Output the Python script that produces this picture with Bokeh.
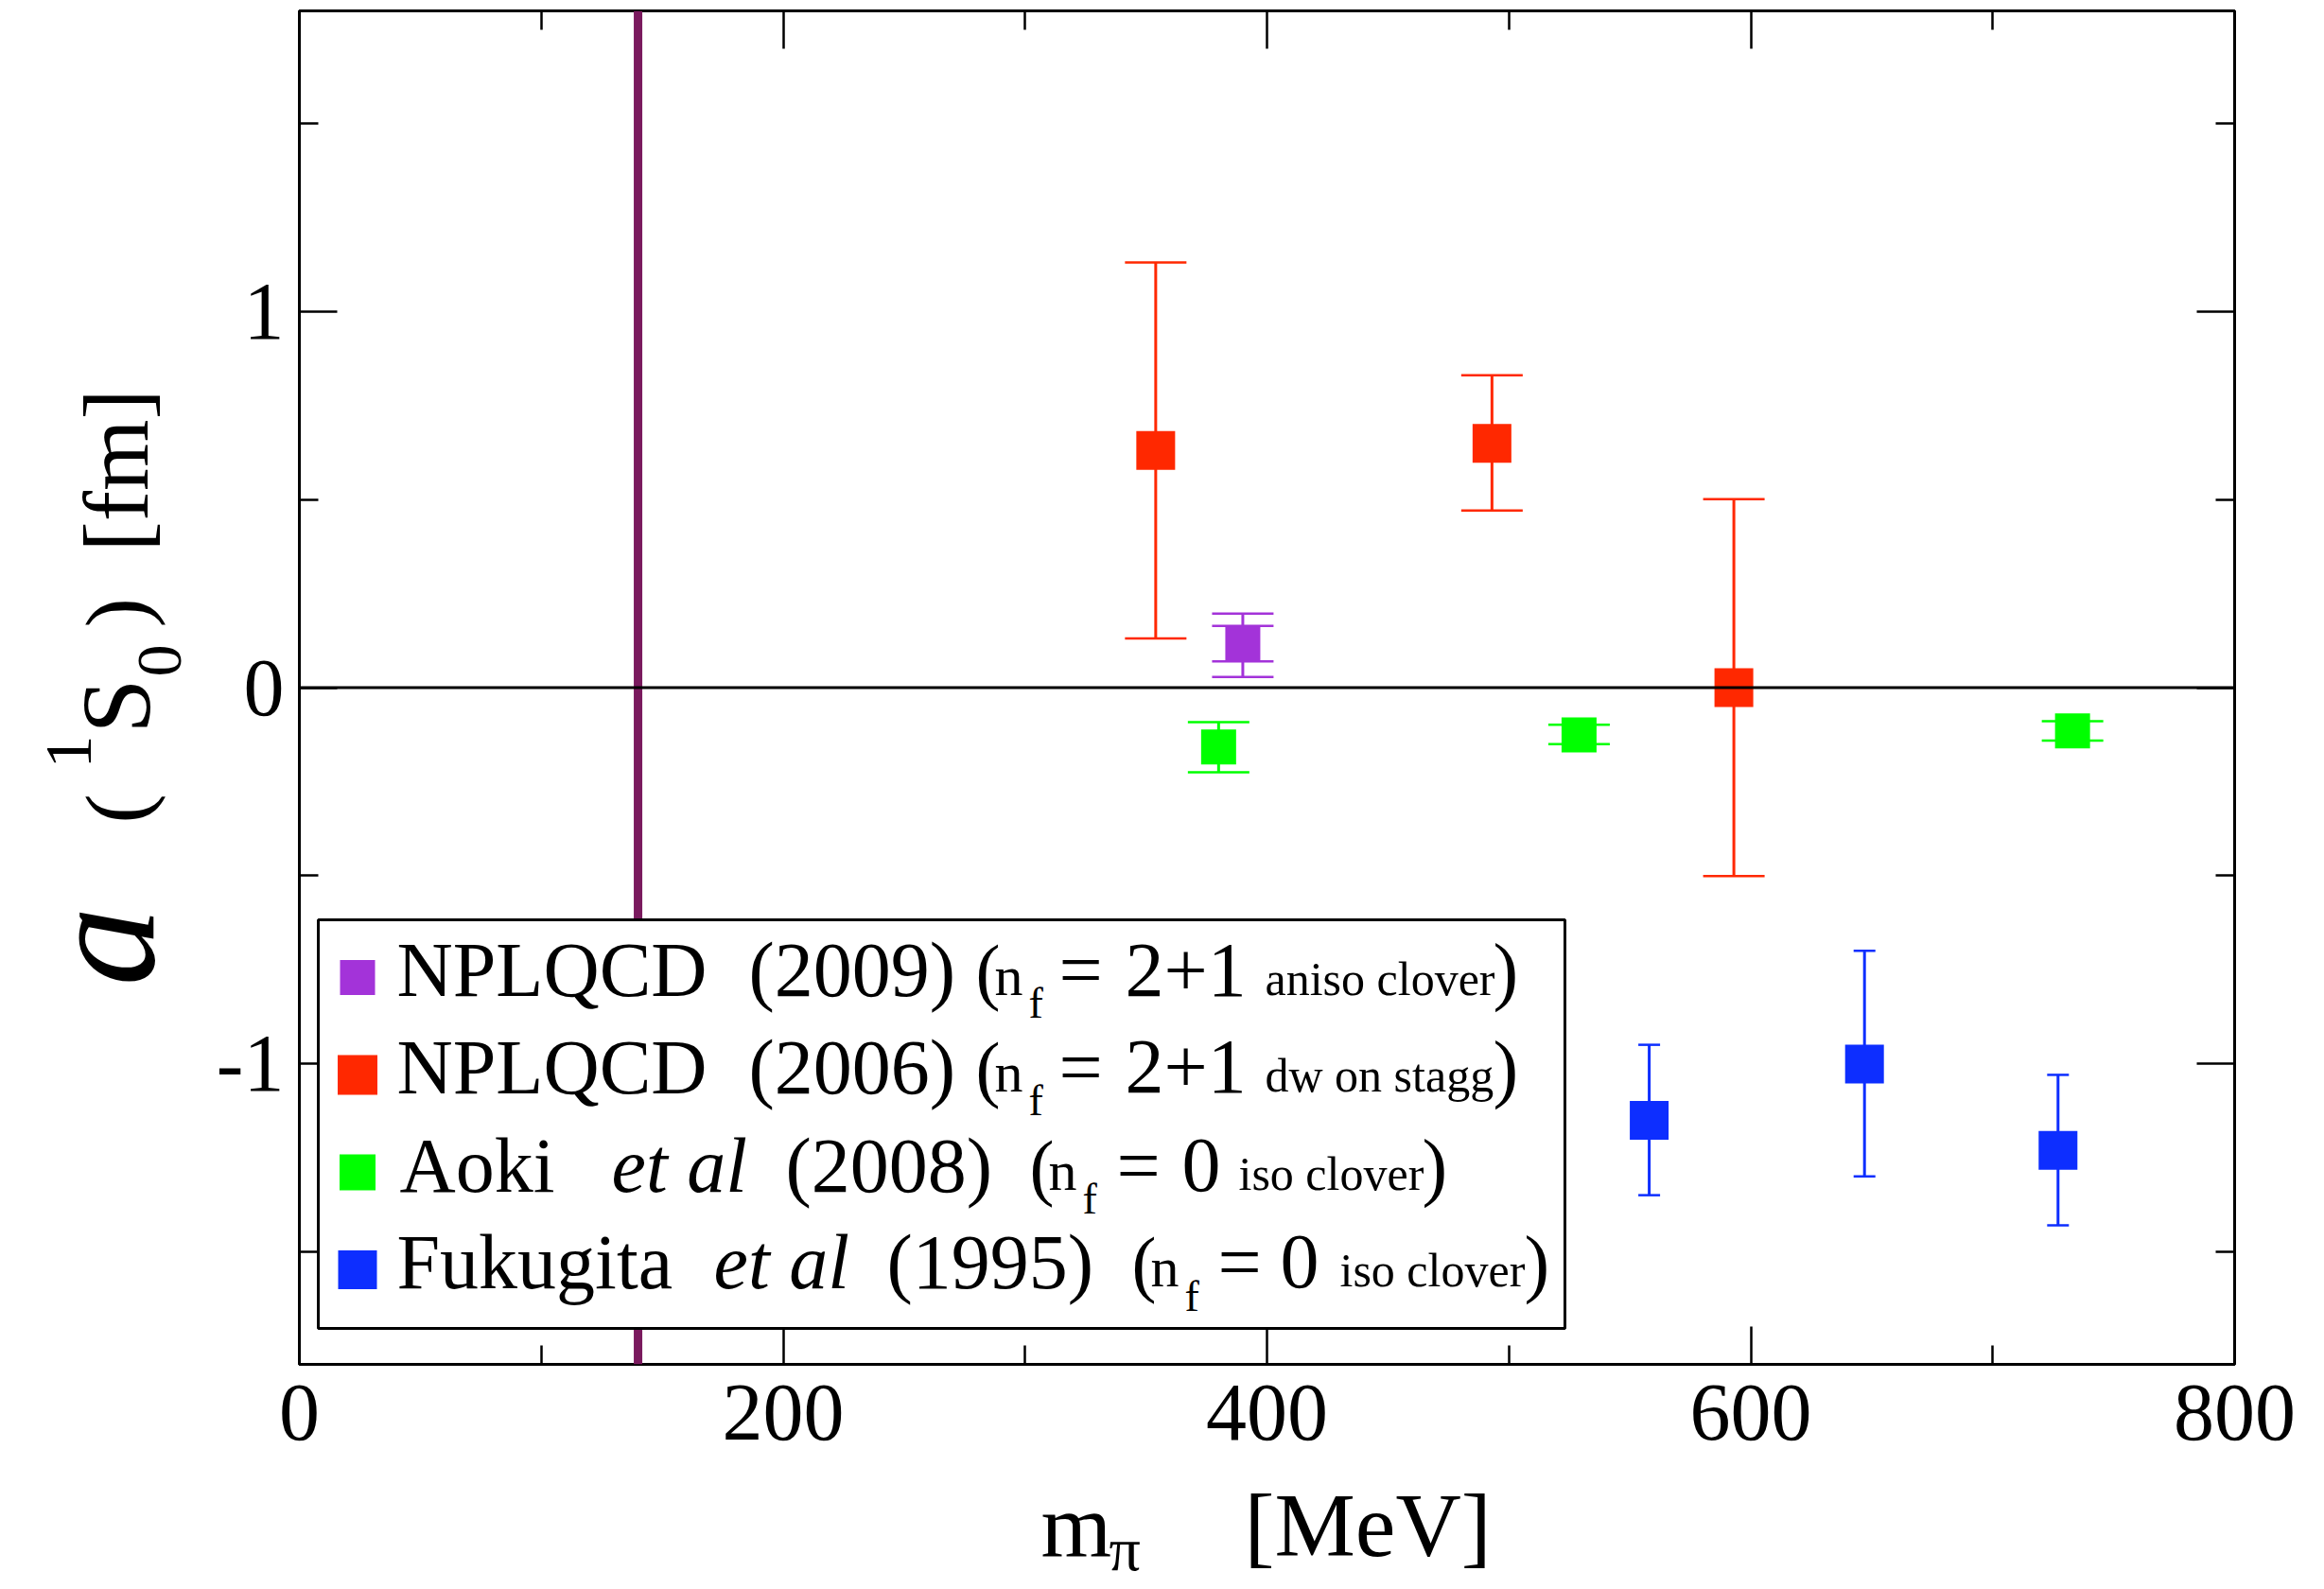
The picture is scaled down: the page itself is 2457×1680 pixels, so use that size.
import numpy as np
from bokeh.plotting import figure
from bokeh.layouts import column
from bokeh.models import (ColumnDataSource, Whisker, TeeHead, Span, BoxAnnotation, Label,
                          LinearAxis, FixedTicker, Range1d, GridBox)
from bokeh.embed import file_html
from bokeh.resources import INLINE

# ---------------- data ----------------
x_ticks = [0, 200, 400, 600, 800]
x_minor = [100, 300, 500, 700]
y_ticks = [-1, 0, 1]
y_minor = [-1.5, -0.5, 0.5, 1.5]
y_tick_labels = {-1: "-1", 0: "0", 1: "1"}
physical_mpi = 140

# NPLQCD (2009): stat and total error bars
npl09_mpi = [390]
npl09_a = [0.117]
npl09_stat_lo = [0.070]
npl09_stat_hi = [0.164]
npl09_tot_lo = [0.028]
npl09_tot_hi = [0.197]

# NPLQCD (2006)
npl06_mpi = [354, 493, 593]
npl06_a = [0.631, 0.650, 0.000]
npl06_lo = [0.131, 0.471, -0.501]
npl06_hi = [1.131, 0.831, 0.501]

# Aoki et al (2008)
aoki_mpi = [380, 529, 733]
aoki_a = [-0.158, -0.126, -0.115]
aoki_lo = [-0.225, -0.150, -0.141]
aoki_hi = [-0.092, -0.099, -0.089]

# Fukugita et al (1995)
fuku_mpi = [558, 647, 727]
fuku_a = [-1.151, -1.001, -1.231]
fuku_lo = [-1.350, -1.300, -1.430]
fuku_hi = [-0.950, -0.700, -1.030]

# ---------------- styles / layout ----------------
C_PURPLE = "#A333D9"
C_RED = "#FF2800"
C_GREEN = "#00FF00"
C_BLUE = "#0D2EFF"
C_PHYS = "#7A1A5E"
FONT = "Liberation Serif"

FRAME_L, FRAME_T = 316, 11      # page pixels of the plot frame
FRAME_W, FRAME_H = 2046, 1431
X0, X1 = 0, 800
Y0, Y1 = -1.8, 1.8
MAIN_BOTTOM = 150
RIGHT_B = 90
TOTAL_W = FRAME_L + FRAME_W + RIGHT_B
TOTAL_H = 1679
BASE_SHIFT = 0.285              # renderer puts the alphabetic baseline this many em below the anchor
YT_SHIFT = 25                   # y-title moved right so its big glyph stays inside the page


def px2x(X):
    return X0 + (X - FRAME_L) * (X1 - X0) / FRAME_W


def px2y(Y):
    return Y1 - (Y - FRAME_T) * (Y1 - Y0) / FRAME_H


p = figure(frame_width=FRAME_W, frame_height=FRAME_H,
           x_range=Range1d(X0, X1), y_range=Range1d(Y0, Y1),
           output_backend="svg", toolbar_location=None,
           min_border_left=FRAME_L, min_border_top=FRAME_T,
           min_border_right=RIGHT_B, min_border_bottom=MAIN_BOTTOM,
           background_fill_color="white", border_fill_color="white")
p.grid.visible = False
p.outline_line_color = "black"
p.outline_line_width = 3

p.xaxis.ticker = FixedTicker(ticks=x_ticks, minor_ticks=x_minor)
p.yaxis.ticker = FixedTicker(ticks=y_ticks, minor_ticks=y_minor)
p.yaxis.major_label_overrides = y_tick_labels


def style_axis(ax):
    ax.axis_line_width = 3
    ax.axis_line_color = "black"
    ax.major_tick_in = 40
    ax.major_tick_out = 0
    ax.minor_tick_in = 20
    ax.minor_tick_out = 0
    ax.major_tick_line_width = 2.5
    ax.minor_tick_line_width = 2.5
    ax.major_tick_line_color = "black"
    ax.minor_tick_line_color = "black"
    ax.major_label_text_font = FONT
    ax.major_label_text_color = "black"
    ax.major_label_text_font_size = "86px"


style_axis(p.xaxis[0])
style_axis(p.yaxis[0])
p.xaxis[0].major_label_standoff = 22
p.yaxis[0].major_label_standoff = 16

top_ax = LinearAxis(ticker=FixedTicker(ticks=x_ticks, minor_ticks=x_minor))
right_ax = LinearAxis(ticker=FixedTicker(ticks=y_ticks, minor_ticks=y_minor))
for ax, ticks in ((top_ax, x_ticks), (right_ax, y_ticks)):
    style_axis(ax)
    ax.major_label_text_font_size = "1px"
    ax.major_label_standoff = 0
    ax.major_label_overrides = {t: "" for t in ticks}
p.add_layout(top_ax, "above")
p.add_layout(right_ax, "right")


# ---------------- error bars and markers ----------------
def add_series(mpi, a, lo, hi, color, cap):
    src = ColumnDataSource(dict(x=mpi, y=a, lo=lo, hi=hi))
    p.add_layout(Whisker(source=src, base="x", lower="lo", upper="hi", dimension="height",
                         line_color=color, line_width=3,
                         upper_head=TeeHead(size=cap, line_color=color, line_width=2.5),
                         lower_head=TeeHead(size=cap, line_color=color, line_width=2.5)))
    return src


s09 = ColumnDataSource(dict(x=npl09_mpi, y=npl09_a, lo=npl09_tot_lo, hi=npl09_tot_hi,
                            slo=npl09_stat_lo, shi=npl09_stat_hi))
for lo_f, hi_f in (("lo", "hi"), ("slo", "shi")):
    p.add_layout(Whisker(source=s09, base="x", lower=lo_f, upper=hi_f, dimension="height",
                         line_color=C_PURPLE, line_width=3,
                         upper_head=TeeHead(size=65, line_color=C_PURPLE, line_width=2.5),
                         lower_head=TeeHead(size=65, line_color=C_PURPLE, line_width=2.5)))
s06 = add_series(npl06_mpi, npl06_a, npl06_lo, npl06_hi, C_RED, 65)
sao = add_series(aoki_mpi, aoki_a, aoki_lo, aoki_hi, C_GREEN, 65)
sfu = add_series(fuku_mpi, fuku_a, fuku_lo, fuku_hi, C_BLUE, 23)

p.scatter("x", "y", source=s09, marker="square", size=37, fill_color=C_PURPLE, line_color=None)
p.scatter("x", "y", source=s06, marker="square", size=41, fill_color=C_RED, line_color=None)
p.scatter("x", "y", source=sao, marker="square", size=37, fill_color=C_GREEN, line_color=None)
p.scatter("x", "y", source=sfu, marker="square", size=41, fill_color=C_BLUE, line_color=None)

# reference lines
p.add_layout(Span(location=physical_mpi, dimension="height", line_color=C_PHYS, line_width=9))
p.add_layout(Span(location=0, dimension="width", line_color="black", line_width=3))

# ---------------- legend (custom, mixed fonts) ----------------
p.add_layout(BoxAnnotation(left=px2x(336), right=px2x(1654), top=px2y(972), bottom=px2y(1404),
                           fill_color="white", fill_alpha=1.0, line_color="black",
                           line_alpha=1.0, line_width=3))

legend_squares = [(C_PURPLE, 1033, 37), (C_RED, 1136, 42), (C_GREEN, 1239, 38), (C_BLUE, 1342, 41)]
for col, cy, sz in legend_squares:
    cx = 377.5
    p.add_layout(BoxAnnotation(left=px2x(cx - sz / 2), right=px2x(cx + sz / 2),
                               top=px2y(cy - sz / 2), bottom=px2y(cy + sz / 2),
                               fill_color=col, fill_alpha=1.0, line_color=None))

legend_rows = [
    (1048.5, [("NPLQCD", 419, 0, 82, "normal"), ("(2009)", 791, 0, 82, "normal"),
              ("(", 1031, 0, 78, "normal"), ("n", 1051, 0, 60, "normal"), ("f", 1087, 25, 46, "normal"),
              ("=", 1119, 0, 82, "normal"), ("2+1", 1189, 0, 82, "normal"),
              ("aniso clover", 1337, 0, 50, "normal"), (")", 1578, 0, 80, "normal")]),
    (1151, [("NPLQCD", 419, 0, 82, "normal"), ("(2006)", 791, 0, 82, "normal"),
            ("(", 1031, 0, 78, "normal"), ("n", 1051, 0, 60, "normal"), ("f", 1087, 25, 46, "normal"),
            ("=", 1119, 0, 82, "normal"), ("2+1", 1189, 0, 82, "normal"),
            ("dw on stagg", 1337, 0, 50, "normal"), (")", 1578, 0, 80, "normal")]),
    (1255, [("Aoki", 422, 0, 82, "normal"), ("et al", 646, 0, 82, "italic"), ("(2008)", 830, 0, 82, "normal"),
            ("(", 1088, 0, 78, "normal"), ("n", 1108, 0, 60, "normal"), ("f", 1144, 25, 46, "normal"),
            ("=", 1180, 0, 82, "normal"), ("0", 1249, 0, 82, "normal"),
            ("iso clover", 1309, 0, 50, "normal"), (")", 1503, 0, 80, "normal")]),
    (1357, [("Fukugita", 419, 0, 82, "normal"), ("et al", 754, 0, 82, "italic"), ("(1995)", 937, 0, 82, "normal"),
            ("(", 1196, 0, 78, "normal"), ("n", 1216, 0, 60, "normal"), ("f", 1252, 26, 46, "normal"),
            ("=", 1287, 0, 82, "normal"), ("0", 1353, 0, 82, "normal"),
            ("iso clover", 1416, 0, 50, "normal"), (")", 1611, 0, 80, "normal")]),
]
for base, segs in legend_rows:
    for txt, X, dyo, fs, style in segs:
        p.add_layout(Label(x=px2x(X), y=px2y(base + dyo - BASE_SHIFT * fs), text=txt, text_font=FONT,
                           text_font_size=f"{fs}px", text_font_style=style, text_color="black",
                           text_align="left", text_baseline="alphabetic"))

# ---------------- axis titles: transparent overlay covering the whole page ----------------
ov = figure(width=TOTAL_W, height=TOTAL_H, x_range=Range1d(0, TOTAL_W), y_range=Range1d(0, TOTAL_H),
            output_backend="svg", toolbar_location=None, min_border=0,
            x_axis_location=None, y_axis_location=None,
            background_fill_alpha=0, border_fill_alpha=0)
ov.grid.visible = False
ov.outline_line_color = None

# rotated parts: (text, baseline page-x, start page-y, size, style)
ylabel_parts = [("a", 127, 1042, 168, "italic"), ("(", 124, 870, 94, "normal"),
                ("1", 67, 812, 70, "normal"), ("S", 127, 775, 104, "normal"),
                ("0", 163, 715, 68, "normal"), (")", 124, 663, 94, "normal"),
                ("[fm]", 126, 583, 97, "normal")]
for txt, X, Y, fs, style in ylabel_parts:
    ov.add_layout(Label(x=X + YT_SHIFT - BASE_SHIFT * fs, y=TOTAL_H - Y, text=txt,
                        text_font=FONT, text_font_size=f"{fs}px",
                        text_font_style=style, text_color="black", angle=np.pi / 2,
                        text_align="left", text_baseline="alphabetic"))

xlabel_parts = [("m", 1100, 1639, 96), ("\u03c0", 1172, 1656, 66), ("[MeV]", 1315, 1639, 96)]
for txt, X, Y, fs in xlabel_parts:
    ov.add_layout(Label(x=X, y=TOTAL_H - (Y - BASE_SHIFT * fs), text=txt, text_font=FONT,
                        text_font_size=f"{fs}px", text_color="black",
                        text_align="left", text_baseline="alphabetic"))

layout = GridBox(children=[(p, 0, 0), (column(ov), 0, 0)], spacing=0)
open("out.html", "w").write(file_html(layout, INLINE))
